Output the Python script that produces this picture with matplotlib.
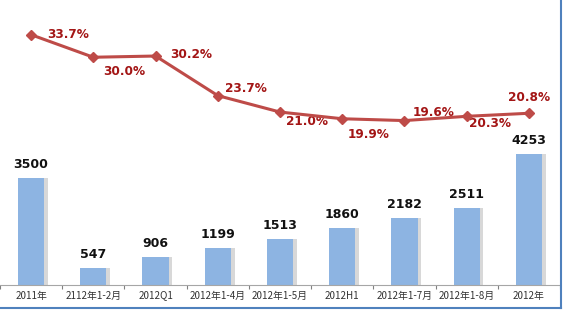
import matplotlib
matplotlib.use("Agg")
import matplotlib.pyplot as plt
from matplotlib.lines import Line2D
import numpy as np

plt.rcParams['font.family'] = ['Noto Sans CJK SC', 'DejaVu Sans']

categories = ["2011年", "2112年1-2月", "2012Q1", "2012年1-4月", "2012年1-5月",
              "2012H1", "2012年1-7月", "2012年1-8月", "2012年"]
bar_values = [3500, 547, 906, 1199, 1513, 1860, 2182, 2511, 4253]
pct_values = [33.7, 30.0, 30.2, 23.7, 21.0, 19.9, 19.6, 20.3, 20.8]
pct_labels = ["33.7%", "30.0%", "30.2%", "23.7%", "21.0%", "19.9%", "19.6%", "20.3%", "20.8%"]
# label offsets in points (style only)
pct_offsets = [(27, 0), (22, -10), (26, 1), (20, 5), (19.5, -7), (19, -11), (21, 6), (17, -5), (0, 11)]

W, H = 563, 313
fig = plt.figure(figsize=(W / 100, H / 100), dpi=100)
ax = fig.add_axes([0, 1 - 285 / H, 560 / W, 285 / H])

x = np.arange(len(categories))
bw = 0.42
bar_color = "#8DB4E2"
# soft shadow
ax.bar(x + 0.06, bar_values, width=bw, color="#bfbfbf", alpha=0.6, zorder=1)
ax.bar(x, bar_values, width=bw, color=bar_color, zorder=2)
for xi, v in zip(x, bar_values):
    ax.annotate(str(v), (xi, v), xytext=(0, 5), textcoords="offset points",
                ha="center", va="bottom", fontsize=9, fontweight="bold",
                color="#111111", family="DejaVu Sans")

ax.set_xlim(-0.5, len(categories) - 0.5)
ax.set_ylim(0, 9280)
ax.set_yticks([])
for s in ["left", "right", "top"]:
    ax.spines[s].set_visible(False)
ax.spines["bottom"].set_color("#a6a6a6")
ax.spines["bottom"].set_linewidth(0.8)
ax.set_xticks(x)
ax.set_xticklabels(categories, fontsize=7.1, color="#333333")
ax.tick_params(axis="x", length=0, pad=4)
# boundary ticks
ax.set_xticks(np.arange(len(categories) + 1) - 0.5, minor=True)
ax.tick_params(axis="x", which="minor", length=3, color="#808080", width=0.8)

ax2 = ax.twinx()
ax2.set_ylim(-7.4, 39.4)
ax2.set_yticks([])
for s in ax2.spines.values():
    s.set_visible(False)
ax2.plot(x, pct_values, color="#BE4B48", lw=2.2, marker="D", markersize=5.5,
         markerfacecolor="#BE4B48", markeredgecolor="#BE4B48", zorder=5)
for xi, v, lab, (dx, dy) in zip(x, pct_values, pct_labels, pct_offsets):
    ax2.annotate(lab, (xi, v), xytext=(dx, dy), textcoords="offset points",
                 ha="center", va="center", fontsize=8.7, fontweight="bold",
                 color="#A31515", family="DejaVu Sans")

# blue frame lines (right and bottom)
fig.add_artist(Line2D([561 / W, 561 / W], [1 - 308 / H, 1], transform=fig.transFigure,
                      color="#4F81BD", lw=1.5))
fig.add_artist(Line2D([0, 561 / W], [1 - 308 / H, 1 - 308 / H], transform=fig.transFigure,
                      color="#4F81BD", lw=1.5))

fig.savefig("out.png", dpi=100)
